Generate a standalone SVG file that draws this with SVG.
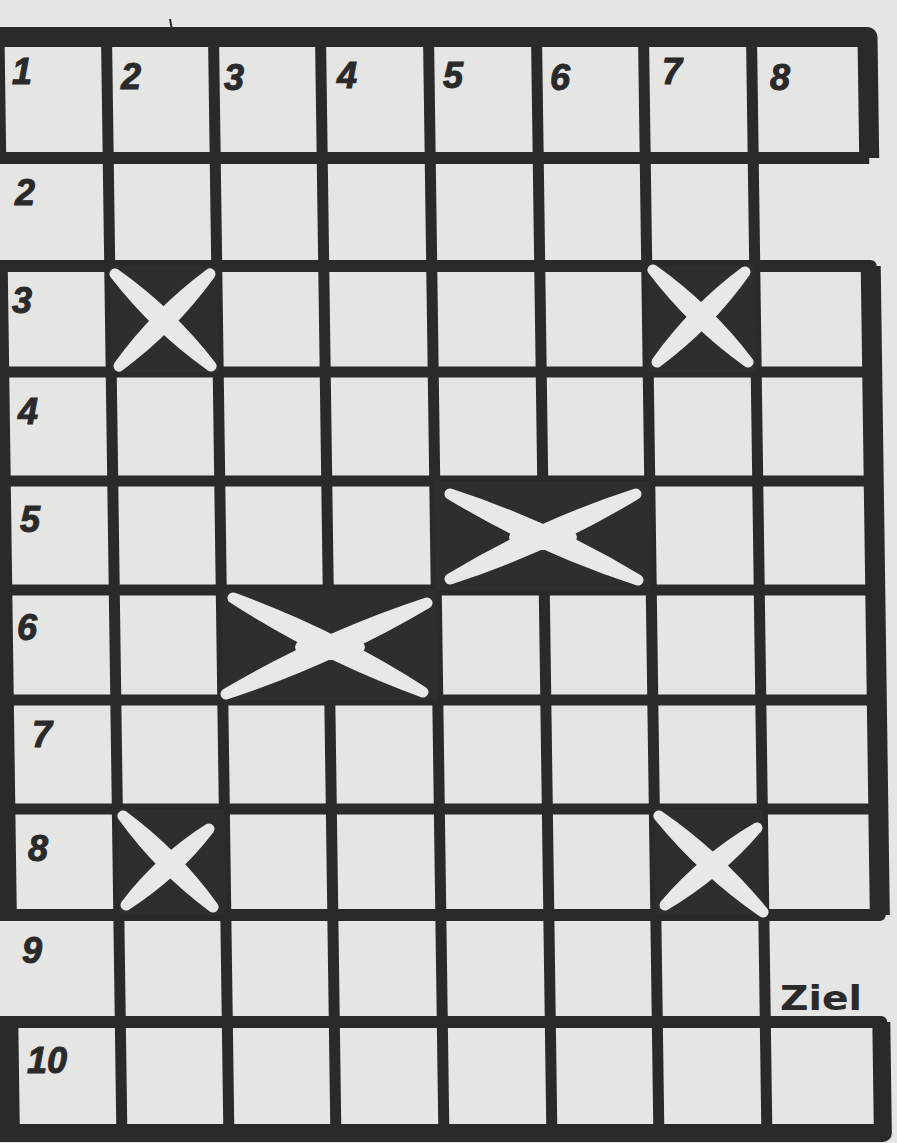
<svg xmlns="http://www.w3.org/2000/svg" width="897" height="1143" viewBox="0 0 897 1143">
  <style>
    .ln { stroke: #2a2a2a; stroke-width: 11; fill: none; stroke-linecap: square; }
    .bd { stroke: #2a2a2a; fill: none; stroke-linejoin: round; stroke-linecap: butt; }
    .dk { fill: #2e2e2e; }
    .xs { fill: #e8e8e6; stroke: #e8e8e6; stroke-width: 11; stroke-linejoin: round; }
    .num { font-family: "Liberation Sans", Arial, sans-serif; font-weight: bold; font-style: italic; font-size: 36px; fill: #2a2a2a; stroke: #2a2a2a; stroke-width: 1; }
    .goal { font-family: "DejaVu Sans", "Liberation Sans", sans-serif; font-weight: bold; font-size: 33px; fill: #2a2a2a; }
  </style>
  <rect x="0" y="0" width="897" height="1143" fill="#e5e5e3"/>
  <line x1="170" y1="19" x2="172" y2="30" stroke="#2a2a2a" stroke-width="2"/>

  <g id="board" transform="matrix(1 0 0.014 1 0 0)">
    <g id="grid-lines">
      <line class="ln" x1="106" y1="37" x2="106" y2="1133"/>
      <line class="ln" x1="213" y1="37" x2="213" y2="1133"/>
      <line class="ln" x1="320" y1="37" x2="320" y2="1133"/>
      <line class="ln" x1="428" y1="37" x2="428" y2="1133"/>
      <line class="ln" x1="536" y1="37" x2="536" y2="1133"/>
      <line class="ln" x1="643" y1="37" x2="643" y2="1133"/>
      <line class="ln" x1="751" y1="37" x2="751" y2="1133"/>
      <line class="ln" x1="-20" y1="372" x2="867" y2="372"/>
      <line class="ln" x1="-20" y1="481" x2="867" y2="481"/>
      <line class="ln" x1="-20" y1="590" x2="867" y2="590"/>
      <line class="ln" x1="-20" y1="700" x2="867" y2="700"/>
      <line class="ln" x1="-20" y1="809" x2="867" y2="809"/>
    </g>
    <g id="borders">
      <path class="bd" stroke-width="20" d="M-30 37 H867 V158"/>
      <path class="bd" stroke-width="12" d="M-30 158 H867"/>
      <line class="bd" stroke-width="30" x1="-11" y1="37" x2="-11" y2="158"/>
      <path class="bd" stroke-width="12" d="M-30 266 H867 V915 H-30"/>
      <line class="bd" stroke-width="20" x1="867" y1="266" x2="867" y2="915"/>
      <line class="bd" stroke-width="30" x1="-11" y1="266" x2="-11" y2="915"/>
      <path class="bd" stroke-width="12" d="M-30 1022 H867 V1133"/>
      <path class="bd" stroke-width="18" d="M867 1022 V1133 H-30"/>
      <line class="bd" stroke-width="30" x1="-11" y1="1022" x2="-11" y2="1133"/>
    </g>
    <g id="dark-cells">
      <rect class="dk" x="106" y="266" width="107" height="106"/>
      <rect class="dk" x="643" y="266" width="108" height="106"/>
      <rect class="dk" x="428" y="481" width="215" height="109"/>
      <rect class="dk" x="213" y="590" width="215" height="110"/>
      <rect class="dk" x="106" y="809" width="107" height="106"/>
      <rect class="dk" x="643" y="809" width="108" height="106"/>
    </g>
  </g>

  <g id="crosses">
    <g id="x-r3c2">
      <path class="xs" d="M115 274 Q156.1 327.2 211 366 Q169.9 312.8 115 274 Z"/>
      <path class="xs" d="M210 274 Q157.4 313 119 366 Q171.6 327 210 274 Z"/>
    </g>
    <g id="x-r3c7">
      <path class="xs" d="M653 270 Q693.5 323.2 748 362 Q707.5 308.8 653 270 Z"/>
      <path class="xs" d="M745 272 Q693.9 310 657 362 Q708.2 324 745 272 Z"/>
    </g>
    <g id="x-r5c5">
      <path class="xs" d="M450 494 Q539 547.9 638 580 Q549 526.1 450 494 Z"/>
      <path class="xs" d="M450 579 Q548 547.4 636 494 Q538 525.6 450 579 Z"/>
      <ellipse cx="543" cy="537" rx="34" ry="13" fill="#e8e8e6"/>
    </g>
    <g id="x-r6c3">
      <path class="xs" d="M233 598 Q322.7 655.8 423 692 Q333.3 634.2 233 598 Z"/>
      <path class="xs" d="M226 694 Q331.5 659.4 427 603 Q321.5 637.6 226 694 Z"/>
      <ellipse cx="330" cy="647" rx="35" ry="13" fill="#e8e8e6"/>
    </g>
    <g id="x-r8c2">
      <path class="xs" d="M123 816 Q160.9 868.5 213 907 Q175.1 854.5 123 816 Z"/>
      <path class="xs" d="M209 829 Q160.8 859.6 126 905 Q174.3 874.4 209 829 Z"/>
    </g>
    <g id="x-r8c7">
      <path class="xs" d="M659 816 Q704.2 871.4 763 912 Q717.8 856.7 659 816 Z"/>
      <path class="xs" d="M757 828 Q704.6 858.8 665 905 Q717.4 874.2 757 828 Z"/>
    </g>
  </g>

  <g id="column-numbers">
    <text class="num" x="12" y="84">1</text>
    <text class="num" x="121" y="89">2</text>
    <text class="num" x="224" y="90">3</text>
    <text class="num" x="337" y="88">4</text>
    <text class="num" x="443" y="88">5</text>
    <text class="num" x="550" y="90">6</text>
    <text class="num" x="662" y="84">7</text>
    <text class="num" x="770" y="90">8</text>
  </g>
  <g id="row-numbers">
    <text class="num" x="15" y="205">2</text>
    <text class="num" x="12" y="313">3</text>
    <text class="num" x="18" y="424">4</text>
    <text class="num" x="20" y="532">5</text>
    <text class="num" x="17" y="640">6</text>
    <text class="num" x="32" y="747">7</text>
    <text class="num" x="28" y="861">8</text>
    <text class="num" x="22" y="963">9</text>
    <text class="num" x="27" y="1073">10</text>
  </g>
  <g id="goal-label">
    <text class="goal" x="780" y="1010" textLength="82" lengthAdjust="spacingAndGlyphs">Ziel</text>
  </g>
</svg>
